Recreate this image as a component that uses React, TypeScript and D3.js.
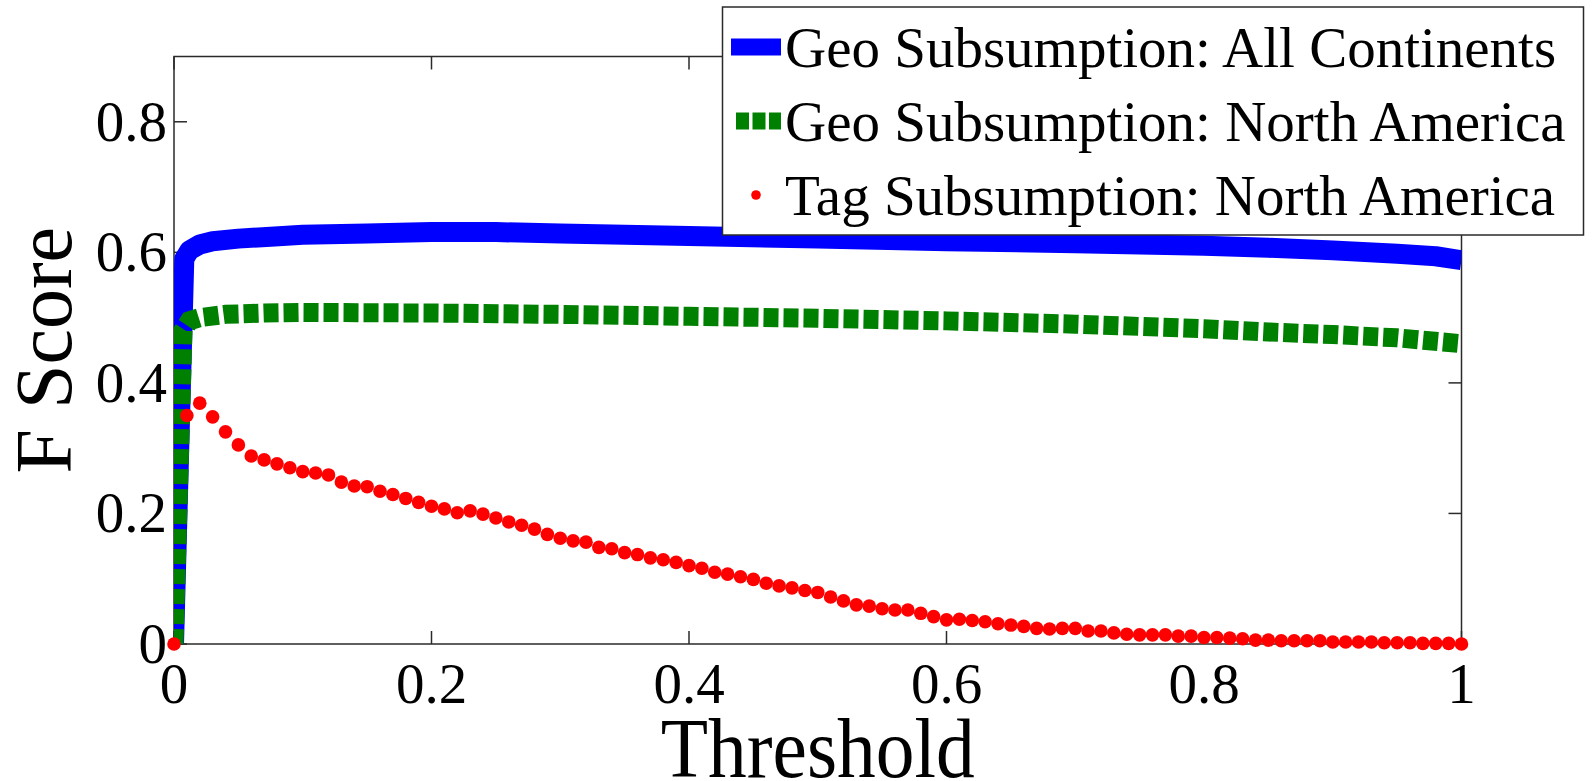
import React from "react";
import * as d3 from "d3";

const blueX = [0, 0.008, 0.012, 0.02, 0.03, 0.05, 0.075, 0.1, 0.15, 0.2, 0.25, 0.3, 0.4, 0.5, 0.6, 0.7, 0.8, 0.85, 0.9, 0.95, 0.98, 1.0];
const blueY = [0, 0.59, 0.603, 0.612, 0.617, 0.621, 0.624, 0.627, 0.629, 0.631, 0.631, 0.629, 0.625, 0.621, 0.617, 0.614, 0.61, 0.607, 0.603, 0.598, 0.594, 0.588];

const greenX = [0, 0.007, 0.012, 0.02, 0.04, 0.07, 0.1, 0.2, 0.3, 0.4, 0.5, 0.6, 0.7, 0.8, 0.85, 0.9, 0.95, 1.0];
const greenY = [0, 0.48, 0.495, 0.5, 0.505, 0.507, 0.508, 0.507, 0.505, 0.502, 0.499, 0.495, 0.49, 0.483, 0.478, 0.474, 0.469, 0.46];

// Tag subsumption, thresholds 0, 0.01, ..., 1.00
const redX = d3.range(0, 101).map((i) => i / 100);
const redY = [
  0, 0.35, 0.369, 0.348, 0.325, 0.305, 0.288, 0.282, 0.276, 0.27,
  0.264, 0.262, 0.259, 0.248, 0.242, 0.241, 0.234, 0.229, 0.223, 0.217,
  0.211, 0.207, 0.201, 0.204, 0.199, 0.193, 0.187, 0.182, 0.176, 0.168,
  0.162, 0.158, 0.156, 0.148, 0.146, 0.14, 0.137, 0.132, 0.129, 0.125,
  0.12, 0.116, 0.11, 0.107, 0.103, 0.099, 0.093, 0.089, 0.086, 0.082,
  0.079, 0.072, 0.066, 0.06, 0.058, 0.054, 0.052, 0.052, 0.047, 0.042,
  0.037, 0.038, 0.036, 0.034, 0.031, 0.029, 0.027, 0.024, 0.023, 0.024,
  0.024, 0.02, 0.02, 0.017, 0.015, 0.014, 0.014, 0.014, 0.012, 0.012,
  0.01, 0.01, 0.009, 0.008, 0.006, 0.006, 0.005, 0.005, 0.005, 0.005,
  0.003, 0.003, 0.003, 0.003, 0.002, 0.002, 0.002, 0.001, 0.001, 0.001,
  0,
];

const xTicks = [0, 0.2, 0.4, 0.6, 0.8, 1];
const xTickLabels = ["0", "0.2", "0.4", "0.6", "0.8", "1"];
const yTicks = [0, 0.2, 0.4, 0.6, 0.8];
const yTickLabels = ["0", "0.2", "0.4", "0.6", "0.8"];

const seriesNames = [
  "Geo Subsumption: All Continents",
  "Geo Subsumption: North America",
  "Tag Subsumption: North America",
];
const xLabel = "Threshold";
const yLabel = "F Score";

const W = 1594;
const H = 781;
const FONT = "'Liberation Serif', 'Times New Roman', serif";

export default function App() {
  const x = d3.scaleLinear().domain([0, 1]).range([174, 1461.5]);
  const y = d3.scaleLinear().domain([0, 0.9]).range([644, 56.5]);
  const [x0, x1] = x.range();
  const [y0, y1] = y.range();
  const tickLen = 13;

  const line = d3
    .line<[number, number]>()
    .x((d) => x(d[0]))
    .y((d) => y(d[1]));

  const blue: [number, number][] = blueX.map((v, i) => [v, blueY[i]]);
  const green: [number, number][] = greenX.map((v, i) => [v, greenY[i]]);

  const axisColor = "#2a2a2a";

  const legend = { x: 722.5, y: 7, w: 861, h: 228 };
  const rowY = [47, 121, 195];
  const sampleX0 = 731;
  const sampleX1 = 781;
  const textX = 785;

  return (
    <svg
      width={W}
      height={H}
      style={{ position: "absolute", left: 0, top: 0, background: "#fff" }}
      fontFamily={FONT}
    >
      <defs>
        <clipPath id="plotClip">
          <rect x={x0} y={y1} width={x1 - x0} height={y0 - y1} />
        </clipPath>
      </defs>
      <rect x={0} y={0} width={W} height={H} fill="#fff" />

      {/* box */}
      <rect x={x0} y={y1} width={x1 - x0} height={y0 - y1} fill="none" stroke={axisColor} strokeWidth={1.5} />

      {/* ticks */}
      {xTicks.map((t) => (
        <g key={"xt" + t}>
          <line x1={x(t)} x2={x(t)} y1={y0} y2={y0 - tickLen} stroke={axisColor} strokeWidth={1.5} />
          <line x1={x(t)} x2={x(t)} y1={y1} y2={y1 + tickLen} stroke={axisColor} strokeWidth={1.5} />
        </g>
      ))}
      {yTicks.map((t) => (
        <g key={"yt" + t}>
          <line x1={x0} x2={x0 + tickLen} y1={y(t)} y2={y(t)} stroke={axisColor} strokeWidth={1.5} />
          <line x1={x1} x2={x1 - tickLen} y1={y(t)} y2={y(t)} stroke={axisColor} strokeWidth={1.5} />
        </g>
      ))}

      {/* tick labels */}
      {xTicks.map((t, i) => (
        <text key={"xl" + t} x={x(t)} y={703} fontSize={57} textAnchor="middle" fill="#000">
          {xTickLabels[i]}
        </text>
      ))}
      {yTicks.map((t, i) => (
        <text key={"yl" + t} x={167} y={y(t) + 19} fontSize={57} textAnchor="end" fill="#000">
          {yTickLabels[i]}
        </text>
      ))}

      {/* axis labels */}
      <text x={(x0 + x1) / 2} y={777} fontSize={84} textAnchor="middle" textLength={314} lengthAdjust="spacingAndGlyphs" fill="#000">
        {xLabel}
      </text>
      <text
        transform={`translate(71, ${(y0 + y1) / 2}) rotate(-90)`}
        fontSize={80}
        textAnchor="middle"
        fill="#000"
      >
        {yLabel}
      </text>

      {/* series */}
      <g clipPath="url(#plotClip)">
        <path d={line(blue) || ""} fill="none" stroke="#0000ff" strokeWidth={20} strokeLinejoin="round" />
        <path d={line(green) || ""} fill="none" stroke="#008000" strokeWidth={19} strokeDasharray="15 5" strokeLinejoin="miter" />
      </g>
      {redX.map((v, i) => (
        <circle key={"r" + i} cx={x(v)} cy={y(redY[i])} r={6.8} fill="#ff0000" />
      ))}

      {/* legend */}
      <rect x={legend.x} y={legend.y} width={legend.w} height={legend.h} fill="#fff" stroke={axisColor} strokeWidth={1.5} />
      <line x1={sampleX0} x2={sampleX1} y1={rowY[0]} y2={rowY[0]} stroke="#0000ff" strokeWidth={17} />
      <line x1={sampleX0 + 5} x2={sampleX1} y1={rowY[1]} y2={rowY[1]} stroke="#008000" strokeWidth={17} strokeDasharray="13 3.5" />
      <circle cx={(sampleX0 + sampleX1) / 2} cy={rowY[2]} r={4.8} fill="#ff0000" />
      {seriesNames.map((n, i) => (
        <text key={n} x={textX} y={rowY[i] + 20} fontSize={57} fill="#000">
          {n}
        </text>
      ))}
    </svg>
  );
}
